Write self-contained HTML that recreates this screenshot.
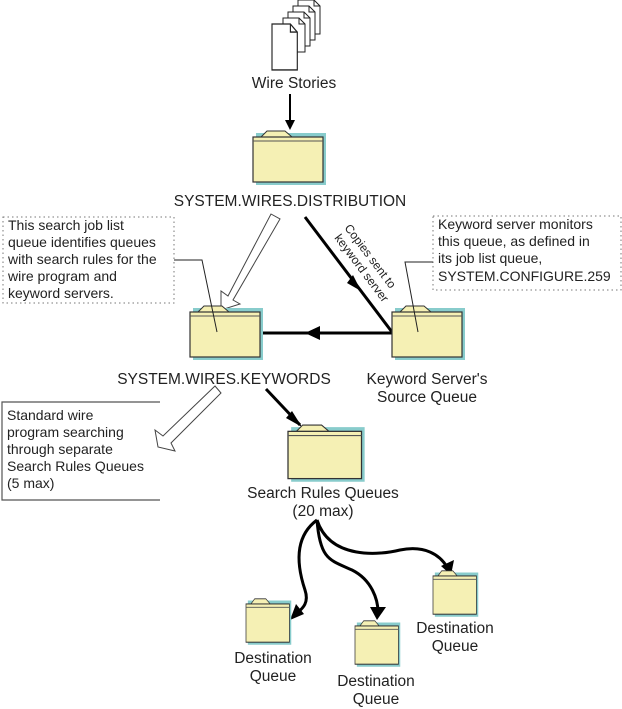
<!DOCTYPE html>
<html><head><meta charset="utf-8"><style>
html,body{margin:0;padding:0;background:#fff}
svg{display:block}
text{font-family:"Liberation Sans",Arial,sans-serif;fill:#222}
</style></head><body>
<svg width="622" height="709" viewBox="0 0 622 709" xmlns="http://www.w3.org/2000/svg">
<defs>
<marker id="ah" markerWidth="10" markerHeight="10" refX="8" refY="5" orient="auto" markerUnits="userSpaceOnUse">
<path d="M0,0 L10,5 L0,10 Z" fill="#000"/></marker>
<g id="fold">
<path d="M3,3 H73 V55 H3 Z" fill="#8cc" />
<path d="M8,7 L14,1 H32 L39,7 Z" fill="#f5f0b4" stroke="#333" stroke-width="1"/>
<rect x="0" y="7" width="70" height="45" fill="#f5f0b4" stroke="#333" stroke-width="1.2"/>
<line x1="0" y1="11" x2="70" y2="11" stroke="#555" stroke-width="1"/>
</g>
<g id="page">
<path d="M0,0 H16 L22,6 V34 H0 Z" fill="#fff" stroke="#222" stroke-width="1"/>
<path d="M16,0 V6 H22" fill="none" stroke="#222"/>
</g>
</defs>

<use href="#page" x="298" y="0"/>
<use href="#page" x="293" y="6"/>
<use href="#page" x="288" y="12"/>
<use href="#page" x="283" y="18"/>
<use href="#page" x="272" y="24" transform="translate(272,24) scale(1.15,1.35) translate(-272,-24)"/>
<text x="294" y="88" font-size="15.5" text-anchor="middle">Wire Stories</text>
<line x1="290" y1="94" x2="290" y2="128" stroke="#000" stroke-width="2" marker-end="url(#ah)"/>

<use href="#fold" x="253" y="130"/>
<text x="290" y="206" font-size="15.5" text-anchor="middle">SYSTEM.WIRES.DISTRIBUTION</text>

<path d="M271,214 L280,219 L233,300 L240,304 L221,310 L221,291 L228,296 Z" fill="#fff" stroke="#444" stroke-width="1"/>
<line x1="305" y1="217" x2="392" y2="332" stroke="#000" stroke-width="3"/>
<path d="M353,275 L361,291 L347,283 Z" fill="#000"/>
<text transform="translate(344,228) rotate(53)" font-size="12" text-anchor="start">Copies sent to</text>
<text transform="translate(334,238) rotate(53)" font-size="12" text-anchor="start">keyword server</text>

<line x1="392" y1="333" x2="260" y2="333" stroke="#000" stroke-width="3"/>
<path d="M320,326 L320,340 L305,333 Z" fill="#000"/>

<use href="#fold" x="190" y="305"/>
<use href="#fold" x="392" y="305"/>
<text x="224" y="384" font-size="15.5" text-anchor="middle">SYSTEM.WIRES.KEYWORDS</text>
<text x="427" y="384" font-size="15.5" text-anchor="middle">Keyword Server's</text>
<text x="427" y="402" font-size="15.5" text-anchor="middle">Source Queue</text>

<rect x="3" y="217" width="171" height="86" fill="none" stroke="#777" stroke-dasharray="1.5,3"/>
<text font-size="14"><tspan x="8" y="230">This search job list</tspan><tspan x="8" y="247">queue identifies queues</tspan><tspan x="8" y="264">with  search rules for the</tspan><tspan x="8" y="281">wire program and</tspan><tspan x="8" y="298">keyword servers.</tspan></text>
<polyline points="174,260 202,260 217,332" fill="none" stroke="#222" stroke-width="1"/>

<rect x="433" y="216" width="188" height="74" fill="none" stroke="#777" stroke-dasharray="1.5,3"/>
<text font-size="14"><tspan x="438" y="229">Keyword server monitors</tspan><tspan x="438" y="246">this queue, as defined in</tspan><tspan x="438" y="263">its job list queue,</tspan><tspan x="438" y="281">SYSTEM.CONFIGURE.259</tspan></text>
<polyline points="433,262 405,262 418,332" fill="none" stroke="#222" stroke-width="1"/>

<polyline points="160,402 2,402 2,500 160,500" fill="none" stroke="#555" stroke-width="1.2"/>
<text font-size="14"><tspan x="7" y="420">Standard wire</tspan><tspan x="7" y="437">program searching</tspan><tspan x="7" y="454">through separate</tspan><tspan x="7" y="471">Search Rules Queues</tspan><tspan x="7" y="488">(5 max)</tspan></text>
<path d="M215,386 L221,393 L171,443 L175,451 L158,447 L155,430 L163,436 Z" fill="#fff" stroke="#444" stroke-width="1"/>

<line x1="266" y1="389" x2="300" y2="425" stroke="#000" stroke-width="3"/>
<path d="M292,411 L302,427 L286,418 Z" fill="#000"/>
<use href="#fold" x="288" y="424" transform="translate(288,424) scale(1.05,1.05) translate(-288,-424)"/>
<text x="323" y="498" font-size="15.5" text-anchor="middle">Search Rules Queues</text>
<text x="323" y="516" font-size="15.5" text-anchor="middle">(20 max)</text>

<g fill="none" stroke="#000" stroke-width="3">
<path d="M317,520 C290,540 300,575 305,590 C310,605 300,610 295,615"/>
<path d="M317,520 C320,560 330,560 352,570 C372,580 378,600 378,612"/>
<path d="M317,520 C330,560 380,555 400,550 C425,545 440,555 447,567"/>
</g>
<path d="M290,620 L296,604 L304,614 Z" fill="#000"/>
<path d="M377,620 L370,607 L386,607 Z" fill="#000"/>
<path d="M451,575 L441,566 L454,560 Z" fill="#000"/>

<use href="#fold" x="246" y="598" transform="translate(246,598) scale(0.62,0.85) translate(-246,-598)"/>
<use href="#fold" x="355" y="620" transform="translate(355,620) scale(0.62,0.85) translate(-355,-620)"/>
<use href="#fold" x="433" y="570" transform="translate(433,570) scale(0.62,0.85) translate(-433,-570)"/>
<text x="273" y="663" font-size="15.5" text-anchor="middle">Destination</text>
<text x="273" y="681" font-size="15.5" text-anchor="middle">Queue</text>
<text x="376" y="686" font-size="15.5" text-anchor="middle">Destination</text>
<text x="376" y="704" font-size="15.5" text-anchor="middle">Queue</text>
<text x="455" y="633" font-size="15.5" text-anchor="middle">Destination</text>
<text x="455" y="651" font-size="15.5" text-anchor="middle">Queue</text>
</svg>
</body></html>
